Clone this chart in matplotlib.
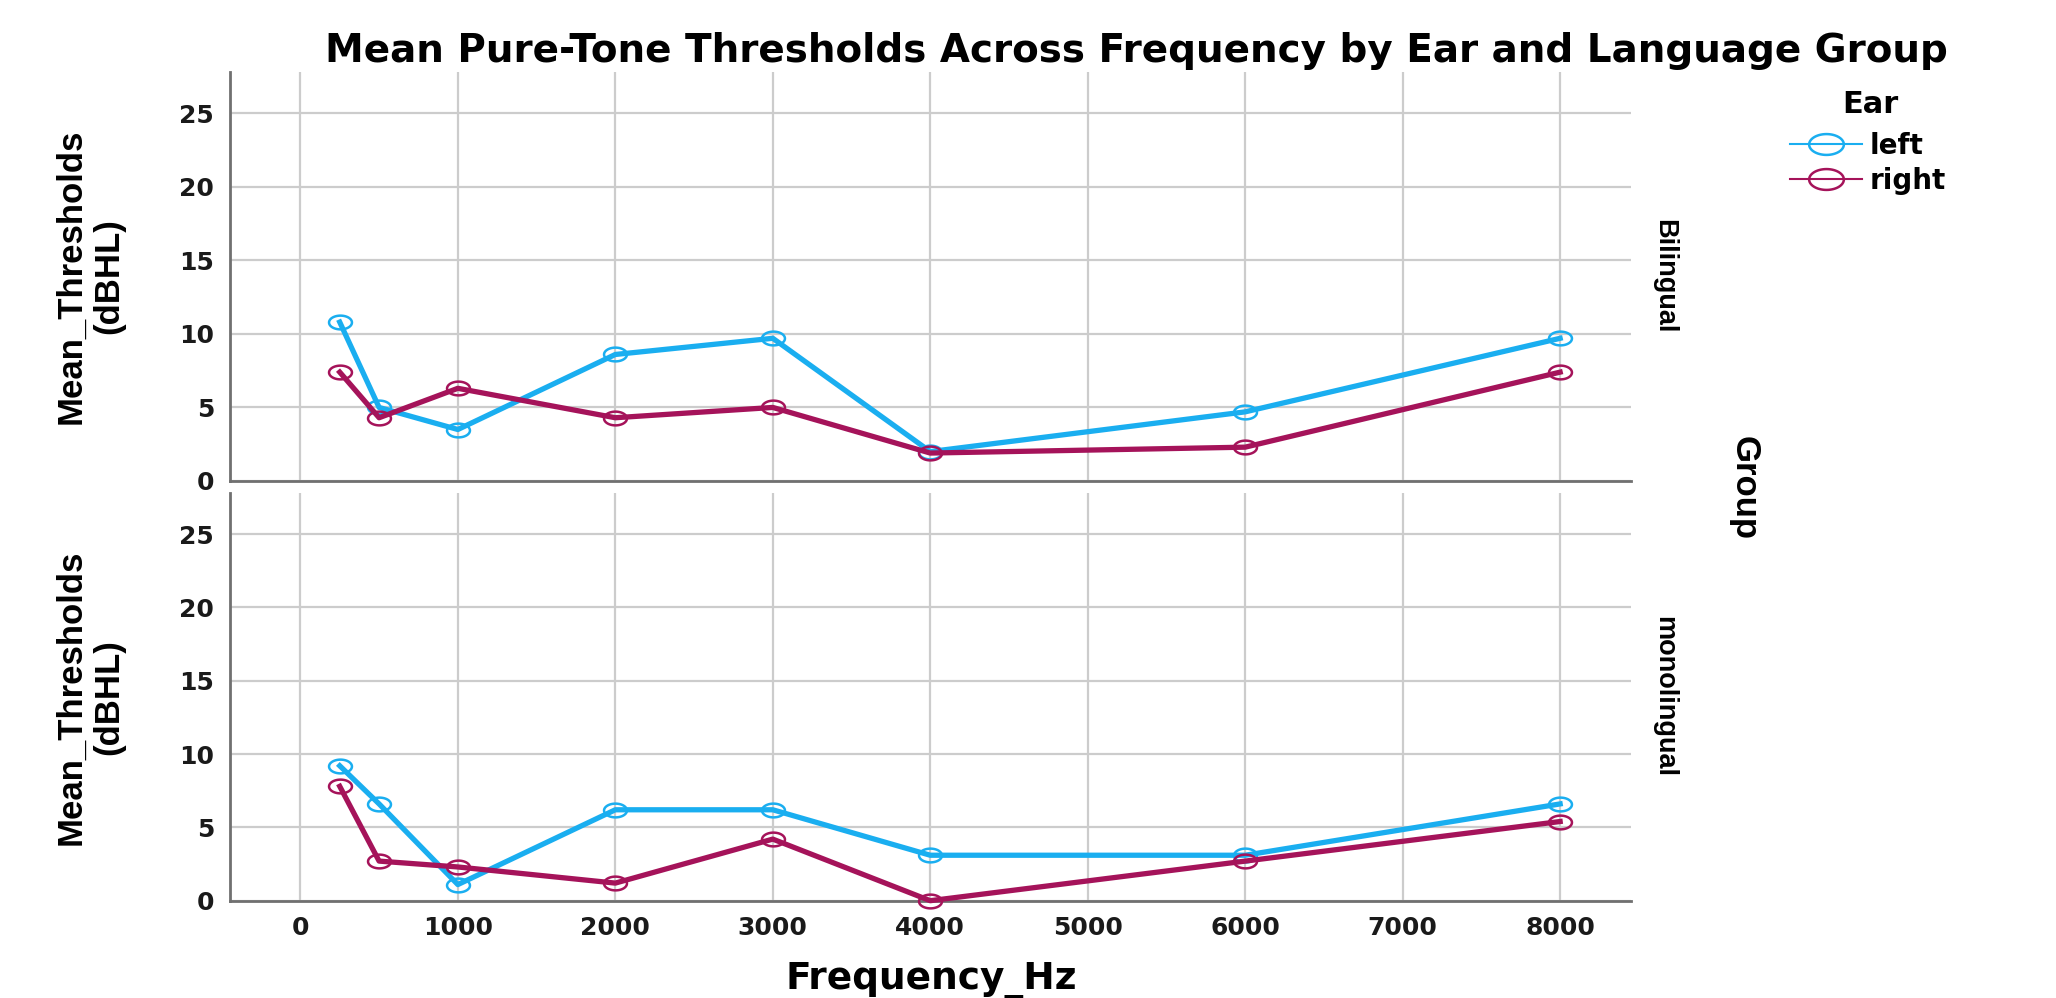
import matplotlib
matplotlib.use("Agg")
import matplotlib.pyplot as plt
from matplotlib.path import Path
from matplotlib.lines import Line2D
import numpy as np

# Data
freqs = [250, 500, 1000, 2000, 3000, 4000, 6000, 8000]
bilingual_left = [10.8, 5.0, 3.5, 8.6, 9.7, 2.0, 4.7, 9.7]
bilingual_right = [7.4, 4.3, 6.3, 4.3, 5.0, 1.9, 2.3, 7.4]
mono_left = [9.2, 6.6, 1.1, 6.2, 6.2, 3.1, 3.1, 6.6]
mono_right = [7.8, 2.7, 2.3, 1.2, 4.2, 0.0, 2.7, 5.4]

groups = ["Bilingual", "monolingual"]
ears = ["left", "right"]
x_ticks = [0, 1000, 2000, 3000, 4000, 5000, 6000, 7000, 8000]
y_ticks = [0, 5, 10, 15, 20, 25]

colors = {"left": "#1AAEF0", "right": "#A5135A"}
grid_col = "#CCCCCC"
spine_col = "#707070"
wide = "DejaVu Sans"
narrow = "Liberation Sans"

# stretched circle marker (the original picture is stretched sideways)
t = np.linspace(0, 2 * np.pi, 61)
ellipse = Path(np.column_stack([np.cos(t), 0.6 * np.sin(t)]), closed=True)

W, H = 2056, 998
fig = plt.figure(figsize=(W / 100, H / 100), dpi=100)

def fx(px):
    return px / W

def fy(py):
    return 1 - py / H

left, right = 229.5, 1631
panels = [(72, 481), (493, 900.7)]
series = {"Bilingual": {"left": bilingual_left, "right": bilingual_right},
          "monolingual": {"left": mono_left, "right": mono_right}}

for i, (grp, (top, bot)) in enumerate(zip(groups, panels)):
    ax = fig.add_axes([fx(left), fy(bot), fx(right) - fx(left), (bot - top) / H])
    for ear in ears:
        ax.plot(freqs, series[grp][ear], color=colors[ear], lw=3.8,
                marker=ellipse, markersize=16.5, markerfacecolor="none",
                markeredgecolor=colors[ear], markeredgewidth=1.8, zorder=3,
                clip_on=False)
    ax.set_xlim(-450, 8450)
    ax.set_ylim(0, 27.8)
    ax.set_xticks(x_ticks)
    ax.set_yticks(y_ticks)
    ax.grid(True, color=grid_col, lw=1.6, zorder=0)
    ax.set_axisbelow(True)
    for s in ["top", "right"]:
        ax.spines[s].set_visible(False)
    for s in ["left", "bottom"]:
        ax.spines[s].set_color(spine_col)
        ax.spines[s].set_linewidth(2)
    ax.tick_params(length=0, pad=11, labelsize=18, labelcolor="#1a1a1a")
    for lab in ax.get_xticklabels() + ax.get_yticklabels():
        lab.set_fontweight("bold")
        lab.set_fontfamily(wide)
    if i == 0:
        ax.tick_params(labelbottom=False)
    # y label and group label
    mid = (top + bot) / 2
    fig.text(fx(90), fy(mid), "Mean_Thresholds\n(dBHL)", rotation=90,
             ha="center", va="center", multialignment="center",
             fontsize=25, fontweight="bold", family=narrow, linespacing=1.2)
    fig.text(fx(1664), fy(mid), grp, rotation=270, ha="center", va="center",
             fontsize=19.5, fontweight="bold", family=narrow)

fig.text(fx(1744), fy(488), "Group", rotation=270, ha="center", va="center",
         fontsize=25, fontweight="bold", family=narrow)

fig.text(fx(325), fy(62), "Mean Pure-Tone Thresholds Across Frequency by Ear and Language Group",
         ha="left", va="baseline", fontsize=28, fontweight="bold", family=wide)

fig.text(fx(931), fy(989), "Frequency_Hz", ha="center", va="baseline",
         fontsize=27, fontweight="bold", family=wide)

fig.text(fx(1870), fy(113), "Ear", ha="center", va="baseline",
         fontsize=22, fontweight="bold", family=wide)

handles = [Line2D([], [], color=colors[e], lw=1.5, marker=ellipse, markersize=25,
                  markerfacecolor="none", markeredgewidth=1.8) for e in ears]
leg = fig.legend(handles, ears, loc="upper left", bbox_to_anchor=(fx(1790), fy(132)),
                 frameon=False, handlelength=2.6, handletextpad=0.25,
                 labelspacing=0.25, borderpad=0, borderaxespad=0,
                 prop={"family": wide, "weight": "bold", "size": 20})

fig.savefig("out.png", dpi=100)
